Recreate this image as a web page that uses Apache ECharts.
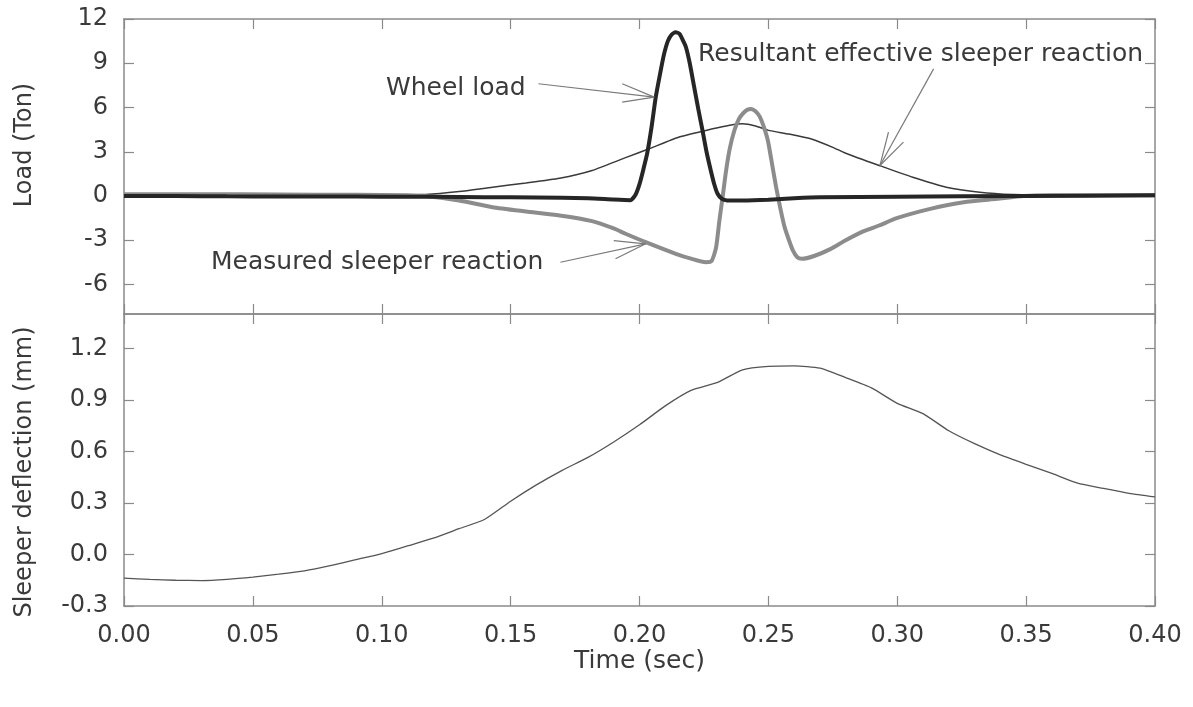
<!DOCTYPE html>
<html>
<head>
<meta charset="utf-8">
<script src="https://cdn.jsdelivr.net/npm/echarts@6/dist/echarts.min.js"></script>
<style>
html,body{margin:0;padding:0;background:#fff;}
#chart{width:1193px;height:707px;}
</style>
</head>
<body>
<div id="chart"></div>
<script>
// ---------- data ----------
const xTicks = [0, 0.05, 0.10, 0.15, 0.20, 0.25, 0.30, 0.35, 0.40];
const loadTicks = [-6, -3, 0, 3, 6, 9, 12];
const deflTicks = [-0.3, 0.0, 0.3, 0.6, 0.9, 1.2];

const wheelT = [0.000,0.020,0.040,0.060,0.080,0.100,0.120,0.140,0.160,0.180,0.190,0.1965,0.1985,0.2000,0.2015,0.2030,0.2047,0.2063,0.2080,0.2095,0.2110,0.2125,0.2140,0.2155,0.2170,0.2180,0.2195,0.2212,0.2228,0.2245,0.2260,0.2277,0.2290,0.2303,0.2320,0.2340,0.2400,0.2500,0.2600,0.2700,0.3000,0.3500,0.4000];
const wheelV = [0.00,0.00,-0.02,-0.03,-0.03,-0.05,-0.05,-0.08,-0.10,-0.15,-0.24,-0.28,0.10,0.80,1.80,2.90,4.70,6.70,8.30,9.60,10.50,10.95,11.10,11.00,10.50,10.10,9.00,7.40,5.90,4.40,3.00,1.70,0.80,0.15,-0.20,-0.30,-0.30,-0.25,-0.15,-0.08,-0.05,0.00,0.05];

const resultT = [0.000,0.050,0.100,0.117,0.130,0.143,0.156,0.169,0.1816,0.1946,0.2037,0.2154,0.2284,0.2350,0.2400,0.2450,0.2500,0.2580,0.2670,0.2750,0.2800,0.2930,0.3060,0.3190,0.3320,0.3450,0.3600,0.4000];
const resultV = [0.05,0.05,0.05,0.10,0.30,0.60,0.88,1.20,1.73,2.60,3.20,4.00,4.56,4.80,4.90,4.75,4.45,4.20,3.85,3.30,2.90,2.07,1.27,0.60,0.26,0.10,0.05,0.05];

const measT = [0.000,0.030,0.060,0.090,0.110,0.117,0.130,0.143,0.156,0.169,0.1816,0.1900,0.1946,0.2024,0.2141,0.2200,0.2258,0.2280,0.2297,0.2310,0.2323,0.2336,0.2350,0.2368,0.2385,0.2400,0.2418,0.2433,0.2450,0.2466,0.2482,0.2498,0.2514,0.2530,0.2546,0.2563,0.2580,0.2595,0.2612,0.2630,0.2680,0.2740,0.2800,0.2868,0.2930,0.2998,0.3128,0.3258,0.3388,0.3490,0.3600,0.4000];
const measV = [0.12,0.12,0.10,0.08,0.05,0.00,-0.30,-0.76,-1.05,-1.32,-1.70,-2.20,-2.56,-3.13,-3.92,-4.25,-4.49,-4.40,-3.50,-1.66,0.00,1.73,3.20,4.44,5.20,5.57,5.85,5.90,5.75,5.40,4.70,3.76,2.20,0.60,-0.80,-2.11,-3.00,-3.69,-4.15,-4.26,-4.05,-3.60,-3.00,-2.40,-2.00,-1.50,-0.87,-0.42,-0.19,0.00,0.05,0.05];

const deflT = [0.00,0.01,0.02,0.03,0.04,0.05,0.06,0.07,0.08,0.09,0.10,0.11,0.12,0.13,0.14,0.15,0.16,0.17,0.18,0.19,0.20,0.21,0.22,0.23,0.24,0.25,0.26,0.27,0.28,0.29,0.30,0.31,0.32,0.33,0.34,0.35,0.36,0.37,0.38,0.39,0.40];
const deflV = [-0.138,-0.145,-0.150,-0.152,-0.145,-0.132,-0.115,-0.095,-0.065,-0.030,0.005,0.050,0.095,0.150,0.205,0.310,0.405,0.490,0.565,0.655,0.755,0.865,0.955,1.000,1.075,1.095,1.098,1.085,1.030,0.970,0.880,0.820,0.720,0.645,0.580,0.525,0.472,0.415,0.385,0.356,0.335];

// annotation arrows (data coordinates: [time, load])
const wheelArrow   = [[[0.1608, 7.61],[0.2057, 6.70]], [[0.1933, 7.61],[0.2057, 6.70]], [[0.1933, 6.36],[0.2057, 6.70]]];
const resultArrow  = [[[0.3141, 8.62],[0.2933, 2.07]], [[0.2966, 4.33],[0.2933, 2.07]], [[0.3024, 3.65],[0.2933, 2.07]]];
const measArrow    = [[[0.1693,-4.49],[0.2024,-3.24]], [[0.1900,-3.02],[0.2024,-3.24]], [[0.1907,-4.26],[0.2024,-3.24]]];

const zip = (a, b) => a.map((t, i) => [t, b[i]]);

// ---------- styles ----------
const FONT = 'DejaVu Sans';
const TXT = '#3a3a3a';
const AX = '#8a8a8a';

function xAxis(grid, pos, labels, name) {
  const o = {
    type: 'value', gridIndex: grid, position: pos, min: 0, max: 0.4,
    axisLine: { show: true, onZero: false, lineStyle: { color: AX, width: 1.5 } },
    axisTick: { show: true, inside: true, length: 10, customValues: xTicks, lineStyle: { color: AX, width: 1.2 } },
    axisLabel: { show: labels, customValues: xTicks, margin: 18, fontSize: 24, fontFamily: FONT, color: TXT,
                 formatter: v => v.toFixed(2) },
    splitLine: { show: false }
  };
  if (name) {
    o.name = name; o.nameLocation = 'middle'; o.nameGap = 42;
    o.nameTextStyle = { fontSize: 25, fontFamily: FONT, color: TXT };
  }
  return o;
}
function yAxis(grid, pos, min, max, ticks, labels, dec, name, pad) {
  const o = {
    type: 'value', gridIndex: grid, position: pos, min: min, max: max,
    axisLine: { show: true, onZero: false, lineStyle: { color: AX, width: 1.5 } },
    axisTick: { show: true, inside: true, length: 10, customValues: ticks, lineStyle: { color: AX, width: 1.2 } },
    axisLabel: { show: labels, customValues: ticks, margin: 16, fontSize: 24, fontFamily: FONT, color: TXT,
                 formatter: v => v.toFixed(dec) },
    splitLine: { show: false }
  };
  if (name) {
    o.name = name; o.nameLocation = 'middle'; o.nameGap = 87; o.nameRotate = 90;
    o.nameTextStyle = { fontSize: 24, fontFamily: FONT, color: TXT, padding: pad };
  }
  return o;
}
function arrowData(arr) { return arr.map(seg => ({ coords: seg })); }

const chart = echarts.init(document.getElementById('chart'), null, { renderer: 'canvas' });
chart.setOption({
  animation: false,
  backgroundColor: '#ffffff',
  grid: [
    { left: 124, right: 38, top: 19, height: 295, outerBoundsMode: 'none' },
    { left: 124, right: 38, top: 314, height: 292, outerBoundsMode: 'none' }
  ],
  xAxis: [
    xAxis(0, 'bottom', false),
    xAxis(0, 'top', false),
    xAxis(1, 'bottom', true, 'Time (sec)'),
    xAxis(1, 'top', false)
  ],
  yAxis: [
    yAxis(0, 'left', -8, 12, loadTicks, true, 0, 'Load (Ton)', [0, 0, 0, 43]),
    yAxis(0, 'right', -8, 12, loadTicks, false, 0),
    yAxis(1, 'left', -0.3, 1.4, deflTicks, true, 1, 'Sleeper deflection (mm)', [0, 24, 0, 0]),
    yAxis(1, 'right', -0.3, 1.4, deflTicks, false, 1)
  ],
  series: [
    { name: 'Resultant effective sleeper reaction', type: 'line', xAxisIndex: 0, yAxisIndex: 0,
      data: zip(resultT, resultV), showSymbol: false, smooth: 0.2,
      lineStyle: { color: '#3a3a3a', width: 1.5 }, z: 3 },
    { name: 'Measured sleeper reaction', type: 'line', xAxisIndex: 0, yAxisIndex: 0,
      data: zip(measT, measV), showSymbol: false, smooth: 0.2,
      lineStyle: { color: '#8c8c8c', width: 4 }, z: 4 },
    { name: 'Wheel load', type: 'line', xAxisIndex: 0, yAxisIndex: 0,
      data: zip(wheelT, wheelV), showSymbol: false, smooth: 0.2,
      lineStyle: { color: '#262626', width: 4 }, z: 5 },
    { name: 'Sleeper deflection', type: 'line', xAxisIndex: 2, yAxisIndex: 2,
      data: zip(deflT, deflV), showSymbol: false, smooth: 0.2,
      lineStyle: { color: '#555555', width: 1.3 } },
    { type: 'lines', coordinateSystem: 'cartesian2d', xAxisIndex: 0, yAxisIndex: 0, silent: true,
      data: arrowData(wheelArrow.concat(resultArrow, measArrow)),
      lineStyle: { color: '#7a7a7a', width: 1.2, opacity: 1 }, z: 6 }
  ],
  graphic: [
    { type: 'text', left: 386, top: 76, style: { text: 'Wheel load', fontSize: 25, fontFamily: FONT, fill: TXT } },
    { type: 'text', left: 698, top: 42, style: { text: 'Resultant effective sleeper reaction', fontSize: 25, fontFamily: FONT, fill: TXT } },
    { type: 'text', left: 211, top: 250, style: { text: 'Measured sleeper reaction', fontSize: 25, fontFamily: FONT, fill: TXT } }
  ]
});
</script>
</body>
</html>
